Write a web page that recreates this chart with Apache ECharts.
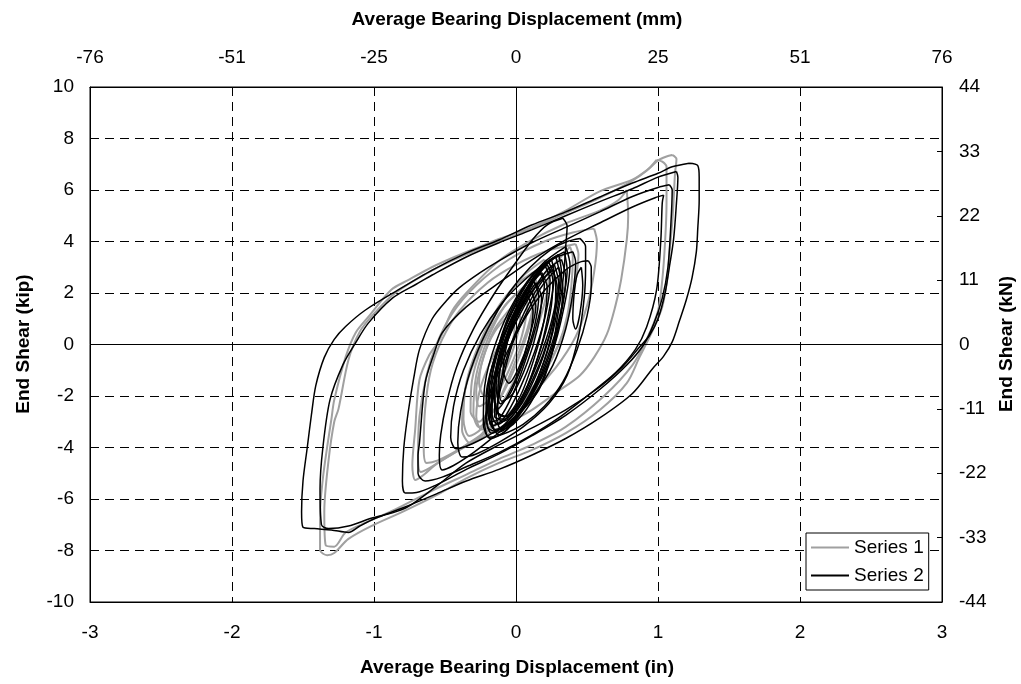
<!DOCTYPE html>
<html>
<head>
<meta charset="utf-8">
<script src="https://cdn.jsdelivr.net/npm/echarts@6/dist/echarts.min.js"></script>
<style>
  html, body { margin: 0; padding: 0; background: #fff; }
  #chart { width: 1021px; height: 684px; }
</style>
</head>
<body>
<div id="chart"></div>
<script>
// Hysteresis loops: [average bearing displacement (in), end shear (kip)]

// ---- Series 1 (grey) ----
const s1Outer = [[1.10,7.36],[1.13,7.2],[1.12,6.66],[1.11,5.6],[1.10,4.72],[1.08,3.5],[1.07,2.78],[1.03,1.46],[0.95,0.4],[0.87,-0.49],[0.78,-1.5],[0.59,-2.54],[0.35,-3.44],[0.11,-4.1],[-0.12,-4.6],[-0.35,-5.2],[-0.56,-5.85],[-0.80,-6.5],[-1.0,-7.0],[-1.18,-7.55],[-1.28,-8.1],[-1.33,-8.18],[-1.38,-7.98],[-1.38,-6.54],[-1.36,-5.2],[-1.33,-3.98],[-1.30,-2.9],[-1.28,-2.15],[-1.20,-0.49],[-1.13,0.45],[-1.04,1.07],[-0.88,2.12],[-0.76,2.5],[-0.59,3.01],[-0.45,3.36],[-0.3,3.7],[-0.12,4.1],[0.11,4.55],[0.35,5.2],[0.59,5.95],[0.82,6.4],[0.94,6.85],[1.0,7.15],[1.06,7.3],[1.10,7.36]];
const s1Large = [[0.99,7.17],[1.03,7.1],[1.06,6.9],[1.06,5.5],[1.05,4.0],[1.03,2.5],[1.0,1.3],[0.92,0.2],[0.82,-0.8],[0.62,-2.0],[0.35,-3.2],[0.11,-3.9],[-0.12,-4.45],[-0.35,-5.05],[-0.6,-5.7],[-0.85,-6.4],[-1.05,-6.9],[-1.2,-7.3],[-1.28,-7.85],[-1.34,-7.8],[-1.35,-6.5],[-1.32,-4.5],[-1.28,-3.0],[-1.25,-2.5],[-1.18,-0.6],[-1.10,0.5],[-1.0,1.2],[-0.85,2.0],[-0.6,2.85],[-0.35,3.5],[-0.12,4.0],[0.11,4.5],[0.35,5.1],[0.59,5.7],[0.8,6.3],[0.92,6.75],[0.99,7.17]];
const s1Medium = [[0.78,6.0],[0.79,5.0],[0.78,4.06],[0.74,2.5],[0.70,1.5],[0.64,0.4],[0.55,-0.5],[0.45,-1.2],[0.30,-1.8],[0.11,-2.55],[-0.12,-3.25],[-0.35,-3.95],[-0.55,-4.6],[-0.66,-5.1],[-0.71,-5.26],[-0.73,-4.7],[-0.71,-3.3],[-0.68,-1.38],[-0.61,-0.4],[-0.54,0.17],[-0.45,1.3],[-0.35,2.0],[-0.12,3.25],[0.11,4.05],[0.35,4.7],[0.59,5.2],[0.72,5.6],[0.78,6.0]];
const s1MidA = [[0.55,4.5],[0.57,4.0],[0.55,2.8],[0.5,1.5],[0.42,0.3],[0.28,-0.9],[0.1,-2.0],[-0.12,-3.0],[-0.35,-3.9],[-0.55,-4.6],[-0.67,-4.95],[-0.69,-4.3],[-0.68,-2.8],[-0.63,-1.2],[-0.56,0.0],[-0.45,1.2],[-0.28,2.3],[-0.05,3.3],[0.2,4.0],[0.4,4.35],[0.55,4.5]];
const s1MidB = [[0.42,3.9],[0.44,3.5],[0.42,2.5],[0.38,1.3],[0.3,0.0],[0.18,-1.2],[0.02,-2.3],[-0.18,-3.3],[-0.38,-4.0],[-0.55,-4.5],[-0.63,-4.6],[-0.65,-4.0],[-0.64,-2.5],[-0.6,-1.0],[-0.52,0.2],[-0.4,1.3],[-0.2,2.4],[0.0,3.1],[0.2,3.6],[0.42,3.9]];
const s1MidC = [[0.38,3.8],[0.40,3.4],[0.39,2.3],[0.36,1.1],[0.3,0.0],[0.2,-1.1],[0.05,-2.2],[-0.12,-3.0],[-0.24,-3.3],[-0.28,-2.8],[-0.24,-1.5],[-0.12,0.0],[0.03,1.4],[0.18,2.6],[0.3,3.3],[0.38,3.8]];
const s1SmallA = [[0.05,2.2],[0.08,1.6],[0.04,0.3],[-0.05,-1.0],[-0.16,-2.2],[-0.26,-3.0],[-0.32,-2.6],[-0.31,-1.4],[-0.24,-0.1],[-0.13,1.1],[-0.03,1.8],[0.05,2.2]];
const s1SmallB = [[0.12,2.8],[0.15,2.2],[0.1,0.8],[0.0,-0.8],[-0.13,-2.3],[-0.25,-3.3],[-0.33,-3.55],[-0.37,-2.9],[-0.35,-1.5],[-0.26,0.0],[-0.12,1.5],[0.0,2.3],[0.12,2.8]];
const s1SmallC = [[0.0,1.6],[0.03,1.0],[-0.02,-0.2],[-0.11,-1.4],[-0.2,-2.2],[-0.26,-2.4],[-0.28,-1.8],[-0.24,-0.7],[-0.16,0.5],[-0.07,1.2],[0.0,1.6]];
const s1SmallD = [[0.2,3.3],[0.23,2.6],[0.17,1.0],[0.05,-0.7],[-0.1,-2.3],[-0.23,-3.4],[-0.32,-3.85],[-0.38,-3.3],[-0.36,-1.8],[-0.26,-0.2],[-0.12,1.4],[0.04,2.6],[0.2,3.3]];
const s1SmallE = [[-0.04,1.2],[-0.01,0.6],[-0.06,-0.5],[-0.15,-1.6],[-0.22,-2.0],[-0.26,-1.5],[-0.23,-0.5],[-0.15,0.5],[-0.04,1.2]];
const s1SmallF = [[0.1,2.5],[0.13,1.9],[0.08,0.6],[-0.03,-1.0],[-0.15,-2.5],[-0.26,-3.2],[-0.3,-2.7],[-0.28,-1.2],[-0.2,0.2],[-0.08,1.5],[0.03,2.1],[0.1,2.5]];

// ---- Series 2 (black) ----
const s2Outer = [[1.22,7.04],[1.28,6.95],[1.29,6.5],[1.29,5.6],[1.28,4.5],[1.27,3.6],[1.24,2.6],[1.20,1.75],[1.15,0.9],[1.10,0.1],[1.04,-0.45],[0.96,-0.95],[0.82,-1.9],[0.59,-2.85],[0.35,-3.65],[0.11,-4.3],[-0.12,-4.85],[-0.35,-5.3],[-0.56,-5.8],[-0.80,-6.35],[-0.99,-6.75],[-1.10,-7.05],[-1.18,-7.3],[-1.30,-7.2],[-1.42,-7.15],[-1.50,-7.1],[-1.51,-6.5],[-1.50,-5.3],[-1.47,-4.0],[-1.44,-2.7],[-1.41,-1.6],[-1.35,-0.5],[-1.28,0.2],[-1.2,0.7],[-1.06,1.34],[-0.83,2.12],[-0.59,2.89],[-0.35,3.55],[-0.12,4.06],[0.11,4.64],[0.35,5.15],[0.59,5.73],[0.82,6.27],[1.00,6.65],[1.10,6.9],[1.22,7.04]];
const s2Large = [[1.13,6.72],[1.14,6.5],[1.13,5.5],[1.11,4.1],[1.08,3.0],[1.05,2.0],[1.00,1.0],[0.94,0.35],[0.87,-0.1],[0.75,-0.87],[0.59,-1.65],[0.35,-2.54],[0.11,-3.25],[-0.12,-3.9],[-0.35,-4.6],[-0.56,-5.5],[-0.76,-6.3],[-0.87,-6.54],[-1.02,-6.75],[-1.18,-7.05],[-1.32,-7.15],[-1.37,-7.0],[-1.38,-5.6],[-1.36,-4.0],[-1.31,-2.15],[-1.22,-0.8],[-1.13,0.06],[-1.04,0.83],[-0.87,1.8],[-0.70,2.35],[-0.59,2.7],[-0.35,3.4],[-0.12,3.95],[0.11,4.45],[0.35,5.0],[0.59,5.55],[0.82,6.05],[1.0,6.5],[1.13,6.72]];
const s2Upper = [[1.08,6.2],[1.10,6.0],[1.09,4.6],[1.07,3.0],[1.03,1.8],[0.97,0.8],[0.90,0.0],[0.78,-0.8],[0.6,-1.7],[0.35,-2.75],[0.11,-3.55],[-0.12,-4.25],[-0.35,-4.85],[-0.56,-5.45],[-0.70,-5.75],[-0.78,-5.77],[-0.80,-5.3],[-0.79,-4.0],[-0.76,-2.66],[-0.72,-1.3],[-0.68,-0.2],[-0.59,1.0],[-0.49,1.7],[-0.40,2.2],[-0.25,2.8],[-0.12,3.25],[0.11,3.95],[0.35,4.55],[0.59,5.15],[0.82,5.75],[1.0,6.1],[1.08,6.2]];
const s2Medium = [[1.04,5.8],[1.03,5.5],[1.02,4.06],[0.99,2.12],[0.92,0.68],[0.84,-0.2],[0.7,-1.1],[0.5,-2.0],[0.3,-2.85],[0.1,-3.55],[-0.12,-4.2],[-0.35,-4.75],[-0.52,-5.15],[-0.64,-5.3],[-0.69,-5.0],[-0.69,-4.3],[-0.68,-3.83],[-0.64,-1.5],[-0.58,-0.4],[-0.52,0.45],[-0.35,1.46],[-0.12,2.39],[0.11,3.28],[0.35,4.06],[0.59,4.72],[0.82,5.34],[0.98,5.7],[1.04,5.8]];
const s2MidA = [[0.33,4.9],[0.36,4.6],[0.35,3.8],[0.34,3.0],[0.32,2.0],[0.29,1.0],[0.25,-0.4],[0.16,-1.77],[0.0,-2.82],[-0.15,-3.55],[-0.3,-4.2],[-0.44,-4.7],[-0.52,-4.87],[-0.54,-4.3],[-0.53,-3.5],[-0.49,-2.3],[-0.42,-0.9],[-0.3,0.6],[-0.15,2.0],[0.0,3.2],[0.12,4.1],[0.22,4.65],[0.33,4.9]];
const s2MidB = [[0.45,4.12],[0.49,3.8],[0.49,3.0],[0.48,1.8],[0.44,0.3],[0.36,-1.2],[0.23,-2.3],[0.05,-3.2],[-0.12,-3.8],[-0.28,-4.25],[-0.38,-4.37],[-0.41,-3.8],[-0.39,-2.6],[-0.32,-1.0],[-0.2,0.6],[-0.05,2.0],[0.1,3.0],[0.25,3.7],[0.36,4.0],[0.45,4.12]];
const s2MidC = [[0.51,3.25],[0.53,3.0],[0.53,2.3],[0.50,1.1],[0.43,-0.2],[0.33,-1.45],[0.2,-2.4],[0.05,-3.1],[-0.1,-3.5],[-0.19,-3.6],[-0.22,-3.1],[-0.18,-2.0],[-0.08,-0.5],[0.06,1.0],[0.2,2.1],[0.35,2.9],[0.45,3.2],[0.51,3.25]];
const s2MidD = [[0.40,3.6],[0.42,3.2],[0.40,2.0],[0.35,0.6],[0.26,-0.8],[0.12,-2.0],[-0.05,-3.0],[-0.25,-3.7],[-0.42,-4.05],[-0.46,-3.6],[-0.44,-2.4],[-0.37,-1.0],[-0.25,0.4],[-0.1,1.6],[0.08,2.6],[0.25,3.3],[0.40,3.6]];
const s2Narrow = [[0.46,3.0],[0.47,2.3],[0.45,1.2],[0.42,0.6],[0.40,1.0],[0.41,2.0],[0.43,2.7],[0.46,3.0]];
const s2CoreA = [[0.25,3.3],[0.27,2.7],[0.24,1.5],[0.18,0.0],[0.08,-1.6],[-0.04,-2.7],[-0.13,-3.1],[-0.17,-2.7],[-0.17,-1.5],[-0.12,0.0],[-0.02,1.5],[0.12,2.7],[0.25,3.3]];
const s2CoreB = [[0.18,2.8],[0.22,2.2],[0.2,1.0],[0.13,-0.5],[0.03,-2.0],[-0.08,-2.8],[-0.14,-2.6],[-0.15,-1.4],[-0.1,0.0],[0.0,1.4],[0.1,2.3],[0.18,2.8]];
const s2CoreC = [[0.30,3.5],[0.32,2.8],[0.29,1.3],[0.22,-0.3],[0.1,-1.9],[-0.04,-3.0],[-0.14,-3.35],[-0.19,-2.9],[-0.19,-1.6],[-0.12,0.0],[0.0,1.6],[0.15,2.9],[0.30,3.5]];
const s2CoreD = [[0.14,2.4],[0.18,1.8],[0.15,0.6],[0.08,-0.7],[-0.02,-1.9],[-0.1,-2.2],[-0.12,-1.4],[-0.08,-0.2],[0.0,1.0],[0.08,1.9],[0.14,2.4]];
const s2CoreE = [[0.22,3.1],[0.26,2.5],[0.24,1.2],[0.16,-0.4],[0.05,-2.0],[-0.08,-2.9],[-0.15,-2.8],[-0.15,-1.5],[-0.08,0.0],[0.04,1.5],[0.14,2.6],[0.22,3.1]];
const s2CoreF = [[0.35,3.8],[0.38,3.1],[0.34,1.5],[0.25,-0.4],[0.1,-2.1],[-0.06,-3.3],[-0.18,-3.65],[-0.23,-3.1],[-0.22,-1.6],[-0.14,0.1],[0.0,1.8],[0.18,3.1],[0.35,3.8]];
const s2CoreG = [[0.28,3.4],[0.31,2.6],[0.26,0.9],[0.17,-0.8],[0.04,-2.3],[-0.08,-3.1],[-0.17,-3.45],[-0.21,-2.9],[-0.19,-1.4],[-0.1,0.2],[0.04,1.7],[0.16,2.8],[0.28,3.4]];
const s2CoreH = [[0.20,3.1],[0.24,2.5],[0.21,1.2],[0.13,-0.3],[0.02,-1.8],[-0.09,-2.9],[-0.16,-3.15],[-0.2,-2.6],[-0.17,-1.2],[-0.09,0.3],[0.03,1.7],[0.12,2.6],[0.20,3.1]];
const s2CoreI = [[0.12,2.5],[0.16,1.9],[0.13,0.7],[0.05,-0.7],[-0.04,-1.9],[-0.11,-2.3],[-0.14,-1.6],[-0.1,-0.3],[-0.02,1.0],[0.06,1.9],[0.12,2.5]];
const s2CoreJ = [[0.26,2.9],[0.29,2.2],[0.25,0.9],[0.16,-0.6],[0.04,-2.1],[-0.06,-2.8],[-0.13,-2.6],[-0.12,-1.2],[-0.05,0.4],[0.08,1.8],[0.18,2.5],[0.26,2.9]];
const s2CoreK = [[0.08,1.9],[0.12,1.3],[0.09,0.2],[0.02,-0.9],[-0.05,-1.5],[-0.09,-1.0],[-0.06,0.1],[0.0,1.1],[0.08,1.9]];
const s2CoreL = [[0.32,3.3],[0.35,2.6],[0.31,1.0],[0.21,-0.8],[0.07,-2.3],[-0.06,-3.1],[-0.15,-3.3],[-0.18,-2.6],[-0.14,-1.2],[-0.04,0.4],[0.1,1.9],[0.22,2.9],[0.32,3.3]];
const s2CoreM = [[0.23,3.2],[0.28,2.4],[0.27,1.0],[0.2,-0.6],[0.08,-2.2],[-0.05,-3.2],[-0.12,-3.5],[-0.17,-3.0],[-0.16,-1.7],[-0.1,-0.2],[0.02,1.3],[0.13,2.5],[0.23,3.2]];
const s2CoreN = [[0.3,3.0],[0.33,2.2],[0.3,0.7],[0.22,-0.9],[0.1,-2.3],[-0.02,-3.1],[-0.1,-3.3],[-0.14,-2.8],[-0.1,-1.5],[-0.02,0.1],[0.1,1.5],[0.2,2.4],[0.3,3.0]];
const s2CoreO = [[0.16,2.9],[0.2,2.3],[0.16,1.1],[0.08,-0.4],[-0.02,-1.9],[-0.12,-2.9],[-0.18,-3.0],[-0.19,-2.3],[-0.14,-0.9],[-0.05,0.6],[0.05,1.9],[0.16,2.9]];
const s2CoreP = [[0.27,3.1],[0.3,2.4],[0.27,1.1],[0.19,-0.4],[0.07,-1.9],[-0.03,-2.8],[-0.1,-3.0],[-0.13,-2.4],[-0.09,-1.0],[0.0,0.5],[0.12,1.9],[0.27,3.1]];
const s2CoreQ = [[0.1,2.1],[0.14,1.5],[0.1,0.4],[0.03,-0.9],[-0.06,-2.0],[-0.13,-2.5],[-0.16,-1.9],[-0.12,-0.6],[-0.04,0.7],[0.04,1.6],[0.1,2.1]];
const s2CoreR = [[0.34,3.6],[0.36,2.9],[0.32,1.4],[0.24,-0.2],[0.12,-1.8],[-0.01,-2.9],[-0.12,-3.4],[-0.2,-3.2],[-0.21,-2.0],[-0.15,-0.5],[-0.04,1.1],[0.1,2.4],[0.22,3.2],[0.34,3.6]];

const series1Loops = [s1Outer, s1Large, s1Medium, s1MidA, s1MidB, s1MidC, s1SmallA, s1SmallB, s1SmallC, s1SmallD, s1SmallE, s1SmallF];
const series2Loops = [s2Outer, s2Large, s2Upper, s2Medium, s2MidA, s2MidB, s2MidC, s2MidD, s2Narrow,
  s2CoreA, s2CoreB, s2CoreC, s2CoreD, s2CoreE, s2CoreF, s2CoreG, s2CoreH, s2CoreI, s2CoreJ, s2CoreK,
  s2CoreL, s2CoreM, s2CoreN, s2CoreO, s2CoreP, s2CoreQ, s2CoreR];

// Axis ranges
const inchTicks = { min: -3, max: 3, step: 1 };
const mmTicks = { min: -76.2, max: 76.2, step: 25.4 };
const kipTicks = { min: -10, max: 10, step: 2 };
const kNTicks = { min: -44, max: 44, step: 11 };

const FONT = '"Liberation Sans", Arial, sans-serif';
const GREY = '#a0a0a0';
const BLACK = '#000000';

function loopSeries(name, pts, color, width, extra) {
  return Object.assign({
    name: name,
    type: 'line',
    xAxisIndex: 0,
    yAxisIndex: 0,
    data: pts,
    symbol: 'none',
    showSymbol: false,
    smooth: 0.3,
    silent: true,
    lineStyle: { color: color, width: width },
    itemStyle: { color: color }
  }, extra || {});
}

const series = [];
series1Loops.forEach((pts, i) => {
  const extra = i === 0 ? {
    markLine: {
      silent: true,
      symbol: 'none',
      label: { show: false },
      lineStyle: { color: BLACK, type: 'solid', width: 1 },
      data: [{ xAxis: 0 }, { yAxis: 0 }]
    }
  } : null;
  series.push(loopSeries('Series 1', pts, GREY, 2, extra));
});
series2Loops.forEach(pts => series.push(loopSeries('Series 2', pts, BLACK, 1.5)));

const labelStyle = { color: '#000', fontSize: 19, fontFamily: FONT };
const dashed = { show: true, lineStyle: { color: '#000', type: [9, 6], width: 1 } };
const axisLine = { show: true, onZero: false, lineStyle: { color: '#000', width: 1 } };
const tickIn = { show: true, inside: true, length: 5, lineStyle: { color: '#000' } };

const chart = echarts.init(document.getElementById('chart'), null, { renderer: 'canvas' });
chart.setOption({
  animation: false,
  backgroundColor: '#fff',
  grid: { left: 90, right: 79, top: 87, bottom: 82, show: true, borderColor: '#000', borderWidth: 1 },
  xAxis: [
    { type: 'value', position: 'bottom', min: inchTicks.min, max: inchTicks.max, interval: inchTicks.step,
      axisLine: axisLine, axisTick: tickIn, splitLine: dashed,
      axisLabel: Object.assign({ margin: 21 }, labelStyle) },
    { type: 'value', position: 'top', min: mmTicks.min, max: mmTicks.max, interval: mmTicks.step,
      axisLine: axisLine, axisTick: tickIn, splitLine: { show: false },
      axisLabel: Object.assign({ margin: 20, formatter: v => String(Math.round(v)) }, labelStyle) }
  ],
  yAxis: [
    { type: 'value', position: 'left', min: kipTicks.min, max: kipTicks.max, interval: kipTicks.step,
      axisLine: axisLine, axisTick: tickIn, splitLine: dashed,
      axisLabel: Object.assign({ margin: 16 }, labelStyle) },
    { type: 'value', position: 'right', min: kNTicks.min, max: kNTicks.max, interval: kNTicks.step,
      axisLine: axisLine, axisTick: tickIn, splitLine: { show: false },
      axisLabel: Object.assign({ margin: 17 }, labelStyle) }
  ],
  legend: {
    data: [{ name: 'Series 1', icon: 'rect' }, { name: 'Series 2', icon: 'rect' }],
    orient: 'vertical',
    left: 806,
    top: 533,
    padding: [5, 5, 5, 5],
    itemGap: 9,
    itemWidth: 38,
    itemHeight: 2,
    backgroundColor: '#fff',
    borderColor: '#000',
    borderWidth: 1,
    borderRadius: 0,
    selectedMode: false,
    textStyle: { color: '#000', fontSize: 19, fontFamily: FONT }
  },
  graphic: [
    { type: 'text', x: 517, y: 20, style: { text: 'Average Bearing Displacement (mm)', font: 'bold 19px ' + FONT, fill: '#000', textAlign: 'center', textVerticalAlign: 'middle' } },
    { type: 'text', x: 517, y: 668, style: { text: 'Average Bearing Displacement (in)', font: 'bold 19px ' + FONT, fill: '#000', textAlign: 'center', textVerticalAlign: 'middle' } },
    { type: 'text', x: 24, y: 344, rotation: Math.PI / 2, style: { text: 'End Shear (kip)', font: 'bold 19px ' + FONT, fill: '#000', textAlign: 'center', textVerticalAlign: 'middle' } },
    { type: 'text', x: 1007, y: 344, rotation: Math.PI / 2, style: { text: 'End Shear (kN)', font: 'bold 19px ' + FONT, fill: '#000', textAlign: 'center', textVerticalAlign: 'middle' } }
  ],
  series: series
});
</script>
</body>
</html>
